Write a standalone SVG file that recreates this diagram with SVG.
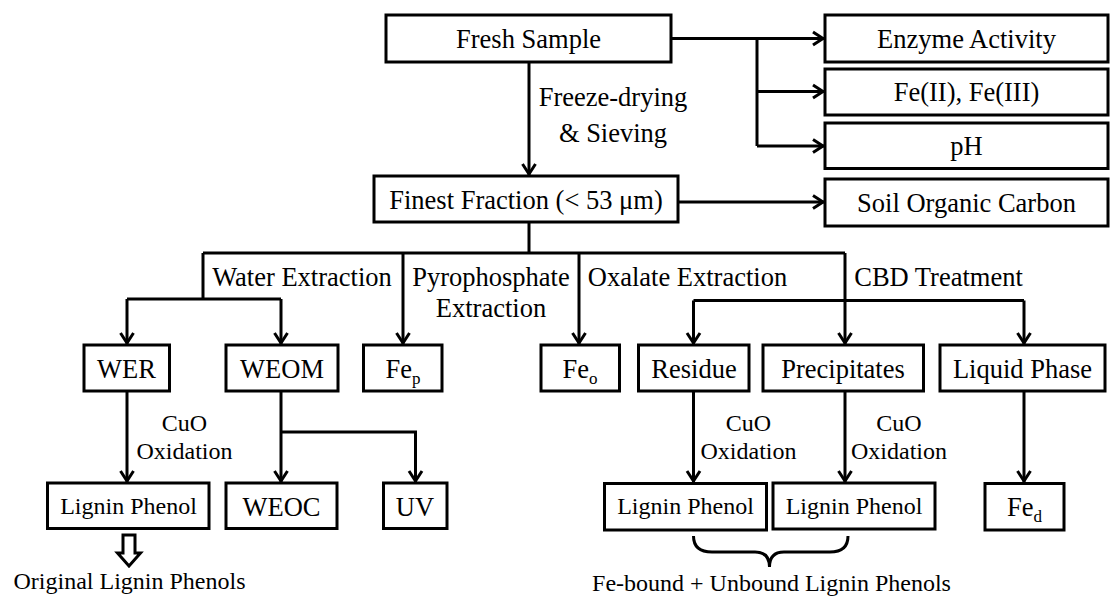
<svg xmlns="http://www.w3.org/2000/svg" width="1110" height="599" viewBox="0 0 1110 599">
<style>
.box{fill:#fff;stroke:#000;stroke-width:3}
.t{font-family:"Liberation Serif","Times New Roman",serif;font-size:26.5px;fill:#000;text-anchor:middle}
.s{font-family:"Liberation Serif","Times New Roman",serif;font-size:24px;fill:#000;text-anchor:middle}
.c{fill:none;stroke:#000;stroke-width:3}
.sub{font-size:17px}
</style>
<defs>
<marker id="ah" markerUnits="userSpaceOnUse" markerWidth="20" markerHeight="20" viewBox="-14 -10 20 20" refX="0" refY="0" orient="auto">
<path d="M -11 -6.5 L -1 0 L -11 6.5" fill="none" stroke="#000" stroke-width="3"/>
</marker>
</defs>
<rect width="1110" height="599" fill="#fff"/>
<g id="connectors">
<path class="c" d="M529 62 V175" marker-end="url(#ah)"/>
<path class="c" d="M671 38.5 H824" marker-end="url(#ah)"/>
<path class="c" d="M757 38.5 V146"/>
<path class="c" d="M757 91.5 H824" marker-end="url(#ah)"/>
<path class="c" d="M757 146 H824" marker-end="url(#ah)"/>
<path class="c" d="M678 202 H824" marker-end="url(#ah)"/>
<path class="c" d="M529 222 V253 M203 253 H845"/>
<path class="c" d="M203 253 V299 M127 299 H281"/>
<path class="c" d="M127 299 V344" marker-end="url(#ah)"/>
<path class="c" d="M281 299 V344" marker-end="url(#ah)"/>
<path class="c" d="M403 253 V344" marker-end="url(#ah)"/>
<path class="c" d="M579 253 V344" marker-end="url(#ah)"/>
<path class="c" d="M845 253 V344" marker-end="url(#ah)"/>
<path class="c" d="M693.5 300.5 H1024"/>
<path class="c" d="M693.5 300.5 V344" marker-end="url(#ah)"/>
<path class="c" d="M1024 300.5 V344" marker-end="url(#ah)"/>
<path class="c" d="M127 391 V482" marker-end="url(#ah)"/>
<path class="c" d="M281 391 V482" marker-end="url(#ah)"/>
<path class="c" d="M281 432 H415.5 V482" marker-end="url(#ah)"/>
<path class="c" d="M693.5 391 V482" marker-end="url(#ah)"/>
<path class="c" d="M845 391 V482" marker-end="url(#ah)"/>
<path class="c" d="M1024 391 V482" marker-end="url(#ah)"/>
<path class="c" d="M123 535 H135 V553 H140.5 L129 566 L117.5 553 H123 Z" stroke-width="2.5" stroke-linejoin="miter"/>
<path class="c" d="M693.5 536 Q693.5 552 712 552 H755 Q769.5 552 769.5 567 Q769.5 552 784 552 H830 Q848 552 848 536"/>
</g>
<text class="t" x="613" y="106">Freeze-drying</text>
<text class="t" x="613" y="142">&amp; Sieving</text>
<text class="t" x="302" y="286">Water Extraction</text>
<text class="t" x="491" y="286">Pyrophosphate</text>
<text class="t" x="491" y="317">Extraction</text>
<text class="t" x="687.5" y="286">Oxalate Extraction</text>
<text class="t" x="938.5" y="286">CBD Treatment</text>
<text class="s" x="184.5" y="431">CuO</text>
<text class="s" x="184.5" y="459">Oxidation</text>
<text class="s" x="748.5" y="431">CuO</text>
<text class="s" x="748.5" y="459">Oxidation</text>
<text class="s" x="899" y="431">CuO</text>
<text class="s" x="899" y="459">Oxidation</text>
<text class="s" x="129.5" y="589">Original Lignin Phenols</text>
<text class="s" x="771.5" y="591">Fe-bound + Unbound Lignin Phenols</text>
<g id="fresh"><rect class="box" x="386" y="15" width="285" height="47"/><text class="t" x="528.5" y="47.5">Fresh Sample</text></g>
<g id="enzyme"><rect class="box" x="825" y="15" width="283" height="47"/><text class="t" x="966.5" y="47.5">Enzyme Activity</text></g>
<g id="feii"><rect class="box" x="825" y="69" width="283" height="46"/><text class="t" x="966.5" y="101">Fe(II), Fe(III)</text></g>
<g id="ph"><rect class="box" x="825" y="123" width="283" height="45.5"/><text class="t" x="966.5" y="154.5">pH</text></g>
<g id="soc"><rect class="box" x="825" y="179" width="283" height="47"/><text class="t" x="966.5" y="211.5">Soil Organic Carbon</text></g>
<g id="finest"><rect class="box" x="374" y="176" width="304" height="46"/><text class="t" x="526" y="208.5">Finest Fraction (&lt; 53 μm)</text></g>
<g id="wer"><rect class="box" x="84" y="345" width="85.5" height="46"/><text class="t" x="126.5" y="377.5">WER</text></g>
<g id="weom"><rect class="box" x="226" y="345" width="112" height="46"/><text class="t" x="282" y="377.5">WEOM</text></g>
<g id="fep"><rect class="box" x="363.5" y="345" width="78.5" height="46"/><text class="t" x="403" y="377.5">Fe<tspan class="sub" dy="6">p</tspan></text></g>
<g id="feo"><rect class="box" x="541" y="345" width="78.5" height="46"/><text class="t" x="580" y="377.5">Fe<tspan class="sub" dy="6">o</tspan></text></g>
<g id="residue"><rect class="box" x="638.5" y="345" width="110.5" height="46"/><text class="t" x="694" y="377.5">Residue</text></g>
<g id="precip"><rect class="box" x="763" y="345" width="160.5" height="46"/><text class="t" x="843" y="377.5">Precipitates</text></g>
<g id="liquid"><rect class="box" x="940" y="345" width="165" height="46"/><text class="t" x="1022.5" y="377.5">Liquid Phase</text></g>
<g id="lp1"><rect class="box" x="47.5" y="483" width="161.5" height="45.5"/><text class="s" x="128.5" y="513.5">Lignin Phenol</text></g>
<g id="weoc"><rect class="box" x="226" y="483" width="111" height="45.5"/><text class="t" x="281.5" y="515.5">WEOC</text></g>
<g id="uv"><rect class="box" x="383.5" y="483" width="63.5" height="45.5"/><text class="t" x="415" y="515.5">UV</text></g>
<g id="lp2"><rect class="box" x="604.5" y="483.5" width="162" height="46.5"/><text class="s" x="685.5" y="514">Lignin Phenol</text></g>
<g id="lp3"><rect class="box" x="773" y="483" width="162" height="46"/><text class="s" x="854" y="513.5">Lignin Phenol</text></g>
<g id="fed"><rect class="box" x="985" y="483.5" width="79" height="46.5"/><text class="t" x="1024.5" y="515.5">Fe<tspan class="sub" dy="6">d</tspan></text></g>
</svg>
